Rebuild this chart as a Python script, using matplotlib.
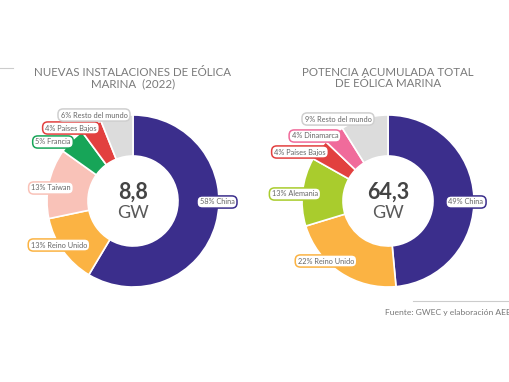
import matplotlib
matplotlib.use("Agg")
import matplotlib.pyplot as plt

plt.rcParams['font.family'] = ['Lato', 'DejaVu Sans']

# data
left_title = "NUEVAS INSTALACIONES DE EÓLICA\nMARINA  (2022)"
left_total = "8,8"
left_names = ["China", "Reino Unido", "Taiwan", "Francia", "Países Bajos", "Resto del mundo"]
left_vals = [58, 13, 13, 5, 4, 6]

right_title = "POTENCIA ACUMULADA TOTAL\nDE EÓLICA MARINA"
right_total = "64,3"
right_names = ["China", "Reino Unido", "Alemania", "Países Bajos", "Dinamarca", "Resto del mundo"]
right_vals = [49, 22, 13, 4, 4, 9]

source = "Fuente: GWEC y elaboración AEE"

colors = {
    "China": "#3b2e8c",
    "Reino Unido": "#fbb343",
    "Taiwan": "#f9c2b8",
    "Francia": "#17a558",
    "Países Bajos": "#e2403f",
    "Resto del mundo": "#dcdcdc",
    "Alemania": "#a9cc2d",
    "Dinamarca": "#f06b9b",
}
edge_colors = dict(colors)
edge_colors["Resto del mundo"] = "#cfcfcf"

# label box positions in pixels (x, y from top)
left_pos = {
    "China": (217, 202), "Reino Unido": (59, 245), "Taiwan": (51, 188),
    "Francia": (53, 142), "Países Bajos": (71, 128), "Resto del mundo": (94, 115),
}
right_pos = {
    "China": (466, 202), "Reino Unido": (326, 261), "Alemania": (295, 194),
    "Países Bajos": (300, 152), "Dinamarca": (315, 136), "Resto del mundo": (338, 119),
}

W, H = 510, 382
fig = plt.figure(figsize=(W / 100, H / 100), dpi=100)
ax = fig.add_axes([0, 0, 1, 1])


def donut(cx, cy, names, vals, pos, total, title):
    ax.pie(vals, colors=[colors[n] for n in names], startangle=90, counterclock=False,
           center=(cx, H - cy), radius=86,
           wedgeprops=dict(width=41, edgecolor="white", linewidth=1.2))
    for n, v in zip(names, vals):
        x, y = pos[n]
        ax.text(x, H - y, f"{v}% {n}", fontsize=5.3, color="#666666", ha="center", va="center",
                zorder=5,
                bbox=dict(boxstyle="round,pad=0.35,rounding_size=0.7", fc="white",
                          ec=edge_colors[n], lw=1.1))
    ax.text(cx, H - cy + 9, total, fontsize=15.5, fontweight="bold", color="#444444",
            ha="center", va="center")
    ax.text(cx, H - cy - 12, "GW", fontsize=13, color="#5a5a5a",
            ha="center", va="center")
    ax.text(cx, H - 78, title, fontsize=8.3, color="#7a7a7a", ha="center", va="center",
            linespacing=1.0)


donut(133, 201, left_names, left_vals, left_pos, left_total, left_title)
donut(388, 201, right_names, right_vals, right_pos, right_total, right_title)

# decorative lines and source
ax.plot([0, 13], [H - 68, H - 68], color="#cccccc", lw=0.8)
ax.plot([413, 510], [H - 301, H - 301], color="#cccccc", lw=0.8)
ax.text(385, H - 313, source, fontsize=6.1, color="#777777", ha="left", va="center")

ax.set_xlim(0, W)
ax.set_ylim(0, H)
ax.set_aspect("auto")
ax.axis("off")

fig.savefig("out.png", dpi=100, facecolor="white")
